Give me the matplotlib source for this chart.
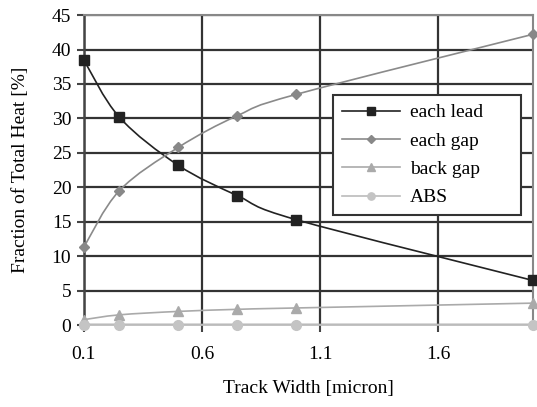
import numpy as np
import matplotlib.pyplot as plt
from matplotlib.path import Path
from matplotlib.patches import PathPatch
from matplotlib.lines import Line2D

plt.rcParams['font.family'] = ['Liberation Serif', 'DejaVu Serif']

track_width = [0.1, 0.25, 0.5, 0.75, 1.0, 2.0]
each_lead = [38.5, 30.2, 23.2, 18.8, 15.3, 6.5]
each_gap = [11.3, 19.5, 25.8, 30.4, 33.5, 42.2]
back_gap = [0.8, 1.5, 2.0, 2.3, 2.5, 3.2]
abs_heat = [0.1, 0.1, 0.1, 0.1, 0.1, 0.1]

x_ticks = [0.1, 0.6, 1.1, 1.6]
y_ticks = list(range(0, 50, 5))


def smooth_path(x, y, tension=1 / 6.0):
    """Bezier path through the points (Catmull-Rom style smoothing)."""
    x = np.asarray(x, float)
    y = np.asarray(y, float)
    n = len(x)
    verts = [(x[0], y[0])]
    codes = [Path.MOVETO]
    for i in range(n - 1):
        i0 = max(i - 1, 0)
        i3 = min(i + 2, n - 1)
        c1 = (x[i] + (x[i + 1] - x[i0]) * tension, y[i] + (y[i + 1] - y[i0]) * tension)
        c2 = (x[i + 1] - (x[i3] - x[i]) * tension, y[i + 1] - (y[i3] - y[i]) * tension)
        verts += [c1, c2, (x[i + 1], y[i + 1])]
        codes += [Path.CURVE4] * 3
    return Path(verts, codes)


fig = plt.figure(figsize=(5.37, 4.07), dpi=100)
ax = fig.add_axes([0.156, 0.201, 0.836, 0.762])

series = [
    ("each lead", each_lead, '#222222', 's', 7, '#222222'),
    ("each gap", each_gap, '#8a8a8a', 'D', 5, '#888888'),
    ("back gap", back_gap, '#aaaaaa', '^', 7, '#aaaaaa'),
    ("ABS", abs_heat, '#bbbbbb', 'o', 7, '#c4c4c4'),
]

handles = []
for name, vals, lc, mk, ms, mc in series:
    ax.add_patch(PathPatch(smooth_path(track_width, vals), facecolor='none',
                           edgecolor=lc, lw=1.2, zorder=3, clip_on=False))
    ax.plot(track_width, vals, ls='none', marker=mk, ms=ms, color=mc,
            zorder=4, clip_on=False)
    handles.append(Line2D([], [], color=lc, lw=1.2, marker=mk, ms=ms * 0.75,
                          markerfacecolor=mc, markeredgecolor=mc))

ax.set_xlim(0.1, 2.0)
ax.set_ylim(0, 45)
ax.set_xticks(x_ticks)
ax.set_xticklabels([str(t) for t in x_ticks])
ax.set_yticks(y_ticks)
ax.grid(True, color='#333333', lw=1.6)
ax.set_axisbelow(True)

for side in ['top', 'right']:
    ax.spines[side].set_color('#888888')
    ax.spines[side].set_linewidth(1.5)
ax.spines['left'].set_color('#444444')
ax.spines['left'].set_linewidth(1.8)
ax.spines['bottom'].set_color('#bbbbbb')
ax.spines['bottom'].set_linewidth(1.2)

ax.tick_params(axis='y', labelsize=14, length=5, width=1.5, color='#444444', pad=4)
ax.tick_params(axis='x', labelsize=14, length=5, width=1.5, color='#444444', pad=10)

ax.set_xlabel('Track Width [micron]', fontsize=14, labelpad=12)
ax.set_ylabel('Fraction of Total Heat [%]', fontsize=14, labelpad=16)

leg = ax.legend(handles, [s[0] for s in series], loc='upper left',
                bbox_to_anchor=(0.555, 0.742, 0.42, 0.0), mode='expand',
                fontsize=14, frameon=True, fancybox=False, handlelength=3.0,
                handletextpad=0.5, borderpad=0.45, labelspacing=0.55,
                framealpha=1, borderaxespad=0)
leg.get_frame().set_edgecolor('#333333')
leg.get_frame().set_linewidth(1.5)
leg.set_zorder(5)

fig.savefig('out.png', dpi=100)
